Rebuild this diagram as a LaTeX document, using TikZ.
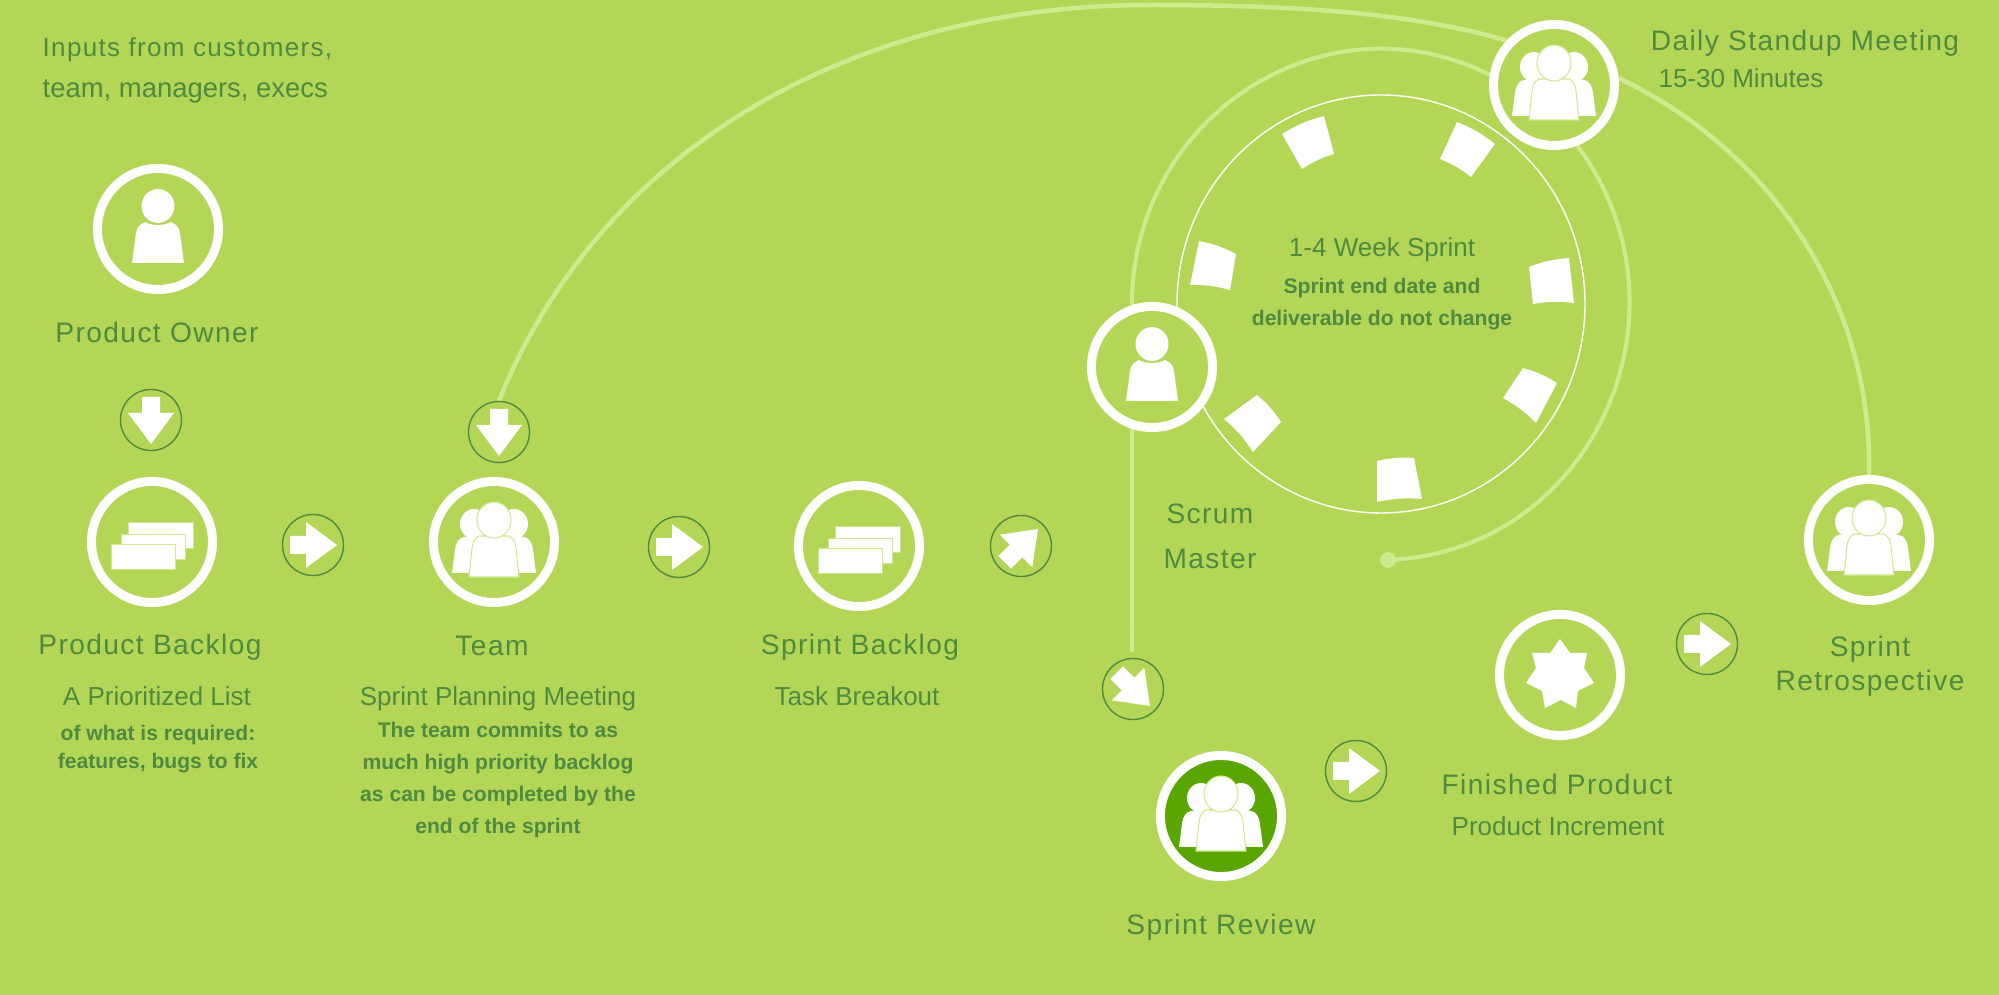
\documentclass[tikz,border=0pt]{standalone}
\usepackage{fontspec}
\setmainfont{Liberation Sans}
\newfontfamily\spaced[LetterSpace=5]{Liberation Sans}
\usetikzlibrary{backgrounds}
\definecolor{meadow}{HTML}{B4D657}
\definecolor{leaf}{HTML}{4F8A40}
\definecolor{pale}{HTML}{D0E98F}
\definecolor{grass}{HTML}{5AA600}
\tikzset{
    ring/.style={circle,draw=white,line width=.09cm,fill=meadow,minimum size=1.21cm,inner sep=0},
    roundbtn/.style={circle,draw=leaf,line width=.4pt,fill=meadow,minimum size=.61cm,inner sep=0},
    trail/.style={draw=pale,line width=.045cm},
    thintrail/.style={draw=pale,line width=.04cm},
    title/.style={text=leaf,font=\spaced\fontsize{8}{11}\selectfont,align=center},
    plain/.style={text=leaf,font=\fontsize{7.4}{11}\selectfont,align=center},
    small/.style={text=leaf,font=\bfseries\fontsize{6}{9.1}\selectfont,align=center},
    person/.pic={
        \fill[white] (-26,34) -- (-22,4) .. controls (-21,-3) and (-17,-5) .. (-13,-7)
            .. controls (-6,-3) and (6,-3) .. (13,-7) .. controls (17,-5) and (21,-3) .. (22,4) -- (26,34) -- cycle;
        \fill[white] (0,-23) ellipse [x radius=16.5,y radius=17];
    },
    team/.pic={
        \fill[white] (-42,31) -- (-39,8) .. controls (-38,0) and (-35,-4) .. (-30,-5) -- (30,-5)
            .. controls (35,-4) and (38,0) .. (39,8) -- (42,31) -- cycle;
        \fill[white] (-20,-18) ellipse [x radius=14,y radius=15];
        \fill[white] (20,-18) ellipse [x radius=14,y radius=15];
        \filldraw[fill=white,draw=pale,line width=.3pt] (-25,35) -- (-22,6) .. controls (-21,-1) and (-19,-4) .. (-15,-6)
            -- (15,-6) .. controls (19,-4) and (21,-1) .. (22,6) -- (25,35) -- cycle;
        \filldraw[fill=white,draw=pale,line width=.3pt] (0,-22) ellipse [x radius=17,y radius=18];
    },
    cards/.pic={
        \filldraw[fill=white,draw=pale,line width=.2pt] (-24,-20) rectangle (41,6);
        \filldraw[fill=white,draw=pale,line width=.2pt] (-31,-8) rectangle (33,17);
        \filldraw[fill=white,draw=pale,line width=.2pt] (-41,2) rectangle (23,27);
    },
    burst/.pic={
        \fill[white] (0,-36) -- (10,-22) -- (27,-22) -- (24,-7) -- (34,8) -- (18,16) -- (16,33)
            -- (1,25) -- (-15,33) -- (-18,16) -- (-34,8) -- (-24,-7) -- (-28,-22) -- (-10,-22) -- cycle;
    },
    pointer/.pic={
        \fill[white] (-23,-9) -- (-7,-9) -- (-7,-23) -- (24,0) -- (-7,23) -- (-7,9) -- (-23,9) -- cycle;
    }
}
\begin{document}
\begin{tikzpicture}[x=.01cm,y=-.01cm]
    \useasboundingbox (0,0) rectangle (1999,995);

    % the stations
    \node[ring] (owner) at (158,229) {};
    \node[ring] (backlog) at (152,542) {};
    \node[ring] (team) at (494,542) {};
    \node[ring] (sprintlog) at (859,546) {};
    \node[ring] (scrum) at (1152,367) {};
    \node[ring] (standup) at (1554,85) {};
    \node[ring] (retro) at (1869,540) {};
    \node[ring] (finished) at (1560,675) {};
    \node[ring,fill=grass] (review) at (1221,816) {};

    \pic at (owner) {person};
    \pic at (scrum) {person};
    \pic at (backlog) {cards};
    \pic at (sprintlog) {cards};
    \pic at (team) {team};
    \pic at (standup) {team};
    \pic at (retro) {team};
    \pic at (review) {team};
    \pic at (finished) {burst};

    % the small arrows
    \node[roundbtn] (ownerdown) at (151,420) {};
    \node[roundbtn] (teamdown) at (499,432) {};
    \node[roundbtn] (toteam) at (313,545) {};
    \node[roundbtn] (tolog) at (679,547) {};
    \node[roundbtn] (tosprint) at (1021,546) {};
    \node[roundbtn] (toreview) at (1133,689) {};
    \node[roundbtn] (tofinished) at (1356,771) {};
    \node[roundbtn] (toretro) at (1707,644) {};

    \pic[rotate=-90] at (ownerdown) {pointer};
    \pic[rotate=-90] at (teamdown) {pointer};
    \pic at (toteam) {pointer};
    \pic at (tolog) {pointer};
    \pic[rotate=45] at (tosprint) {pointer};
    \pic[rotate=-45] at (toreview) {pointer};
    \pic at (tofinished) {pointer};
    \pic at (toretro) {pointer};

    % sprint notes
    \fill[white] (1282,134) to[bend left=8] (1324,116) -- (1334,154) to[bend right=8] (1302,169) -- cycle;
    \fill[white] (1457,122) to[bend left=8] (1495,144) -- (1471,177) to[bend right=8] (1440,159) -- cycle;
    \fill[white] (1529,267) to[bend left=8] (1569,258) -- (1574,303) to[bend right=8] (1533,304) -- cycle;
    \fill[white] (1523,368) to[bend left=8] (1557,383) -- (1536,423) to[bend right=8] (1503,398) -- cycle;
    \fill[white] (1377,461) to[bend left=8] (1414,458) -- (1422,499) to[bend right=8] (1377,502) -- cycle;
    \fill[white] (1257,395) to[bend left=8] (1281,422) -- (1253,452) to[bend right=8] (1224,419) -- cycle;
    \fill[white] (1199,241) to[bend left=8] (1236,254) -- (1230,290) to[bend right=8] (1190,285) -- cycle;

    \coordinate (loopend) at (1388,560);
    \coordinate (arctop) at (1150,5);
    \coordinate (dropend) at (1132,652);
    \fill[pale] (loopend) circle (8);

    \begin{scope}[on background layer]
        \fill[meadow] (0,0) rectangle (1999,995);
        \draw[white,line width=.4pt] (1381,304) ellipse [x radius=204,y radius=209];
        \draw[trail] (teamdown.north) .. controls (600,150) and (850,5) .. (arctop)
            .. controls (1290,5) and (1410,12) .. (standup.137);
        \draw[trail] (standup.6) .. controls (1770,150) and (1873,300) .. (retro.north);
        \draw[thintrail] (scrum.108) .. controls (1132,116) and (1325,-8) .. (standup.171);
        \draw[thintrail] (standup.-69) .. controls (1701,312) and (1592,552) .. (loopend);
        \draw[thintrail] (scrum.-108) -- (dropend);
    \end{scope}

    % labels
    \node[anchor=west,inner sep=0,text=leaf,font=\spaced\fontsize{7.4}{11}\selectfont] (inputs) at (42,50) {Inputs from customers,};
    \node[anchor=west,inner sep=0,text=leaf,font=\fontsize{7.8}{11}\selectfont] (inputstwo) at (42,91) {team, managers, execs};
    \node[title] (ownertext) at (157,332) {Product Owner};
    \node[title] (backlogtext) at (150,647) {Product Backlog};
    \node[plain] (listtext) at (157,696) {A Prioritized List};
    \node[small,font=\bfseries\fontsize{6}{8}\selectfont] (listnote) at (158,749) {of what is required:\\features, bugs to fix};
    \node[title] (teamtext) at (492,646) {Team};
    \node[plain] (planning) at (498,699) {Sprint Planning Meeting};
    \node[small] (planningnote) at (498,780) {The team commits to as\\much high priority backlog\\as can be completed by the\\end of the sprint};
    \node[title] (sprintlogtext) at (860,647) {Sprint Backlog};
    \node[plain] (breakout) at (857,696) {Task Breakout};
    \node[title,font=\spaced\fontsize{8}{12.7}\selectfont] (scrumtext) at (1210,536) {Scrum\\Master};
    \node[title] (standuptext) at (1805,43) {Daily Standup Meeting};
    \node[plain] (minutes) at (1741,78) {15-30 Minutes};
    \node[plain] (weektext) at (1382,250) {1-4 Week Sprint};
    \node[small] (weeknote) at (1382,304) {Sprint end date and\\deliverable do not change};
    \node[title] (reviewtext) at (1221,927) {Sprint Review};
    \node[title] (finishedtext) at (1557,784) {Finished Product};
    \node[plain] (increment) at (1558,826) {Product Increment};
    \node[title,font=\spaced\fontsize{8}{9.8}\selectfont] (retrotext) at (1870,666) {Sprint\\Retrospective};
\end{tikzpicture}
\end{document}
